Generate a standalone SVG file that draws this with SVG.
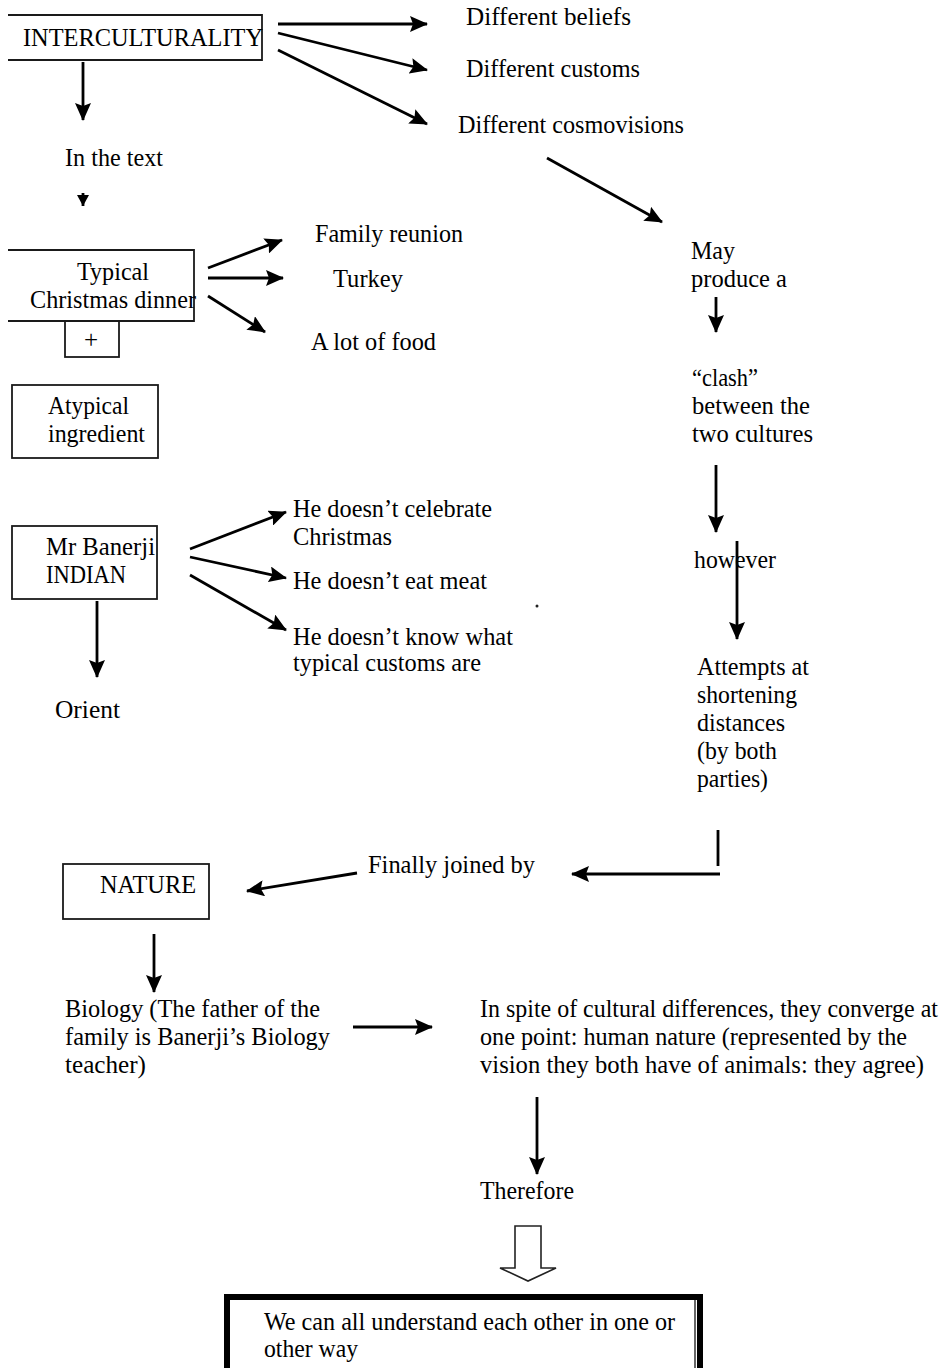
<svg xmlns="http://www.w3.org/2000/svg" width="947" height="1368" viewBox="0 0 947 1368">
<style>
text{font-family:"Liberation Serif","Times New Roman",serif;font-size:25px;fill:#000;}
.box{fill:none;stroke:#1a1a1a;stroke-width:1.8;}
.c{fill:none;stroke:#000;stroke-width:2.8;}
</style>
<defs>
<marker id="ah" markerUnits="userSpaceOnUse" markerWidth="20" markerHeight="16" refX="17" refY="8" orient="auto"><path d="M0,0 L18,8 L0,16 L3,8 Z" fill="#000"/></marker>
<marker id="ahs" markerUnits="userSpaceOnUse" markerWidth="12" markerHeight="12" refX="11" refY="6" orient="auto"><path d="M0,0 L11,6 L0,12 Z" fill="#000"/></marker>
</defs>
<rect width="947" height="1368" fill="#fff"/>

<g id="connectors">
<line class="c" x1="278" y1="24" x2="427" y2="24" stroke-width="4" marker-end="url(#ah)"/>
<line class="c" x1="278" y1="33" x2="427" y2="70" stroke-width="3.5" marker-end="url(#ah)"/>
<line class="c" x1="278" y1="50" x2="427" y2="124" stroke-width="2.4" marker-end="url(#ah)"/>
<line class="c" x1="83" y1="62" x2="83" y2="120" stroke-width="3.2" marker-end="url(#ah)"/>
<line class="c" x1="83" y1="193" x2="83" y2="206" stroke-width="2" marker-end="url(#ahs)"/>
<line class="c" x1="547" y1="158" x2="662" y2="222" stroke-width="3.5" marker-end="url(#ah)"/>
<line class="c" x1="208" y1="268" x2="282" y2="240" stroke-width="2.6" marker-end="url(#ah)"/>
<line class="c" x1="208" y1="278" x2="283" y2="278" stroke-width="4.5" marker-end="url(#ah)"/>
<line class="c" x1="208" y1="296" x2="265" y2="332" stroke-width="3" marker-end="url(#ah)"/>
<line class="c" x1="190" y1="549" x2="286" y2="512" marker-end="url(#ah)"/>
<line class="c" x1="190" y1="557" x2="286" y2="578" marker-end="url(#ah)"/>
<line class="c" x1="190" y1="575" x2="286" y2="630" marker-end="url(#ah)"/>
<line class="c" x1="97" y1="601" x2="97" y2="677" marker-end="url(#ah)"/>
<line class="c" x1="716" y1="297" x2="716" y2="332" marker-end="url(#ah)"/>
<line class="c" x1="716" y1="465" x2="716" y2="532" marker-end="url(#ah)"/>
<line class="c" x1="737" y1="541" x2="737" y2="639" stroke-width="4" marker-end="url(#ah)"/>
<line class="c" x1="718" y1="830" x2="718" y2="866" stroke-width="2"/>
<line class="c" x1="720" y1="874" x2="572" y2="874" marker-end="url(#ah)"/>
<line class="c" x1="357" y1="873" x2="247" y2="891" marker-end="url(#ah)"/>
<line class="c" x1="154" y1="934" x2="154" y2="992" marker-end="url(#ah)"/>
<line class="c" x1="353" y1="1027" x2="432" y2="1027" stroke-width="4" marker-end="url(#ah)"/>
<line class="c" x1="537" y1="1097" x2="537" y2="1174" stroke-width="3" marker-end="url(#ah)"/>
<polygon points="515,1226 541,1226 541,1268 556,1268 528,1281 500,1268 515,1268" fill="#fff" stroke="#222" stroke-width="1.6"/>
<circle cx="537" cy="606" r="1.5" fill="#222"/>
</g>

<g id="interculturality">
<polyline class="box" points="8,15 262,15 262,60 8,60"/>
<text x="23" y="46" textLength="240" lengthAdjust="spacingAndGlyphs">INTERCULTURALITY</text>
</g>
<g id="beliefs"><text x="466" y="25" textLength="165" lengthAdjust="spacingAndGlyphs">Different  beliefs</text></g>
<g id="customs"><text x="466" y="77" textLength="174" lengthAdjust="spacingAndGlyphs">Different customs</text></g>
<g id="cosmovisions"><text x="458" y="133" textLength="226" lengthAdjust="spacingAndGlyphs">Different cosmovisions</text></g>
<g id="inthetext"><text x="65" y="166" textLength="98" lengthAdjust="spacingAndGlyphs">In the text</text></g>

<g id="typical">
<polyline class="box" points="8,250 194,250 194,321 8,321"/>
<text x="77" y="280" textLength="72" lengthAdjust="spacingAndGlyphs">Typical</text>
<text x="30" y="308" textLength="166" lengthAdjust="spacingAndGlyphs">Christmas dinner</text>
</g>
<g id="plus">
<rect class="box" x="65" y="321" width="54" height="36"/>
<text x="84" y="348" font-size="20">+</text>
</g>
<g id="family"><text x="315" y="242" textLength="148" lengthAdjust="spacingAndGlyphs">Family reunion</text></g>
<g id="turkey"><text x="333" y="287" textLength="70" lengthAdjust="spacingAndGlyphs">Turkey</text></g>
<g id="food"><text x="311" y="350" textLength="125" lengthAdjust="spacingAndGlyphs">A lot of food</text></g>

<g id="atypical">
<rect class="box" x="12" y="385" width="146" height="73"/>
<text x="48" y="414" textLength="81" lengthAdjust="spacingAndGlyphs">Atypical</text>
<text x="48" y="442" textLength="97" lengthAdjust="spacingAndGlyphs">ingredient</text>
</g>

<g id="banerji">
<rect class="box" x="12" y="526" width="145" height="73"/>
<text x="46" y="555" textLength="109" lengthAdjust="spacingAndGlyphs">Mr Banerji</text>
<text x="46" y="583" textLength="80" lengthAdjust="spacingAndGlyphs">INDIAN</text>
</g>
<g id="celebrate">
<text x="293" y="517" textLength="199" lengthAdjust="spacingAndGlyphs">He doesn’t celebrate</text>
<text x="293" y="545" textLength="99" lengthAdjust="spacingAndGlyphs">Christmas</text>
</g>
<g id="meat"><text x="293" y="589" textLength="194" lengthAdjust="spacingAndGlyphs">He doesn’t eat meat</text></g>
<g id="know">
<text x="293" y="645" textLength="220" lengthAdjust="spacingAndGlyphs">He doesn’t know what</text>
<text x="293" y="671" textLength="188" lengthAdjust="spacingAndGlyphs">typical customs are</text>
</g>
<g id="orient"><text x="55" y="718" textLength="65" lengthAdjust="spacingAndGlyphs">Orient</text></g>

<g id="may">
<text x="691" y="259" textLength="44" lengthAdjust="spacingAndGlyphs">May</text>
<text x="691" y="287" textLength="96" lengthAdjust="spacingAndGlyphs">produce a</text>
</g>
<g id="clash">
<text x="692" y="386" textLength="66" lengthAdjust="spacingAndGlyphs">“clash”</text>
<text x="692" y="414" textLength="118" lengthAdjust="spacingAndGlyphs">between the</text>
<text x="692" y="442" textLength="121" lengthAdjust="spacingAndGlyphs">two cultures</text>
</g>
<g id="however"><text x="694" y="568" textLength="82" lengthAdjust="spacingAndGlyphs">however</text></g>
<g id="attempts">
<text x="697" y="675" textLength="112" lengthAdjust="spacingAndGlyphs">Attempts at</text>
<text x="697" y="703" textLength="100" lengthAdjust="spacingAndGlyphs">shortening</text>
<text x="697" y="731" textLength="88" lengthAdjust="spacingAndGlyphs">distances</text>
<text x="697" y="759" textLength="80" lengthAdjust="spacingAndGlyphs">(by both</text>
<text x="697" y="787" textLength="71" lengthAdjust="spacingAndGlyphs">parties)</text>
</g>
<g id="finally"><text x="368" y="873" textLength="167" lengthAdjust="spacingAndGlyphs">Finally joined by</text></g>

<g id="nature">
<rect class="box" x="63" y="864" width="146" height="55"/>
<text x="100" y="893" textLength="96" lengthAdjust="spacingAndGlyphs">NATURE</text>
</g>
<g id="biology">
<text x="65" y="1017" textLength="255" lengthAdjust="spacingAndGlyphs">Biology (The father of the</text>
<text x="65" y="1045" textLength="265" lengthAdjust="spacingAndGlyphs">family is Banerji’s Biology</text>
<text x="65" y="1073" textLength="81" lengthAdjust="spacingAndGlyphs">teacher)</text>
</g>
<g id="inspite">
<text x="480" y="1017" font-size="23" textLength="458" lengthAdjust="spacingAndGlyphs">In spite of cultural differences, they converge at</text>
<text x="480" y="1045" font-size="24" textLength="427" lengthAdjust="spacingAndGlyphs">one point: human nature (represented by the</text>
<text x="480" y="1073" font-size="24" textLength="444" lengthAdjust="spacingAndGlyphs">vision they both have of animals: they agree)</text>
</g>
<g id="therefore"><text x="480" y="1199" textLength="94" lengthAdjust="spacingAndGlyphs">Therefore</text></g>

<g id="conclusion">
<rect x="227" y="1297" width="473" height="75" fill="none" stroke="#000" stroke-width="6"/>
<line x1="695" y1="1300" x2="695" y2="1368" stroke="#000" stroke-width="1.2"/>
<text x="264" y="1330" textLength="411" lengthAdjust="spacingAndGlyphs">We can all understand each other in one or</text>
<text x="264" y="1357" textLength="94" lengthAdjust="spacingAndGlyphs">other way</text>
</g>
</svg>
